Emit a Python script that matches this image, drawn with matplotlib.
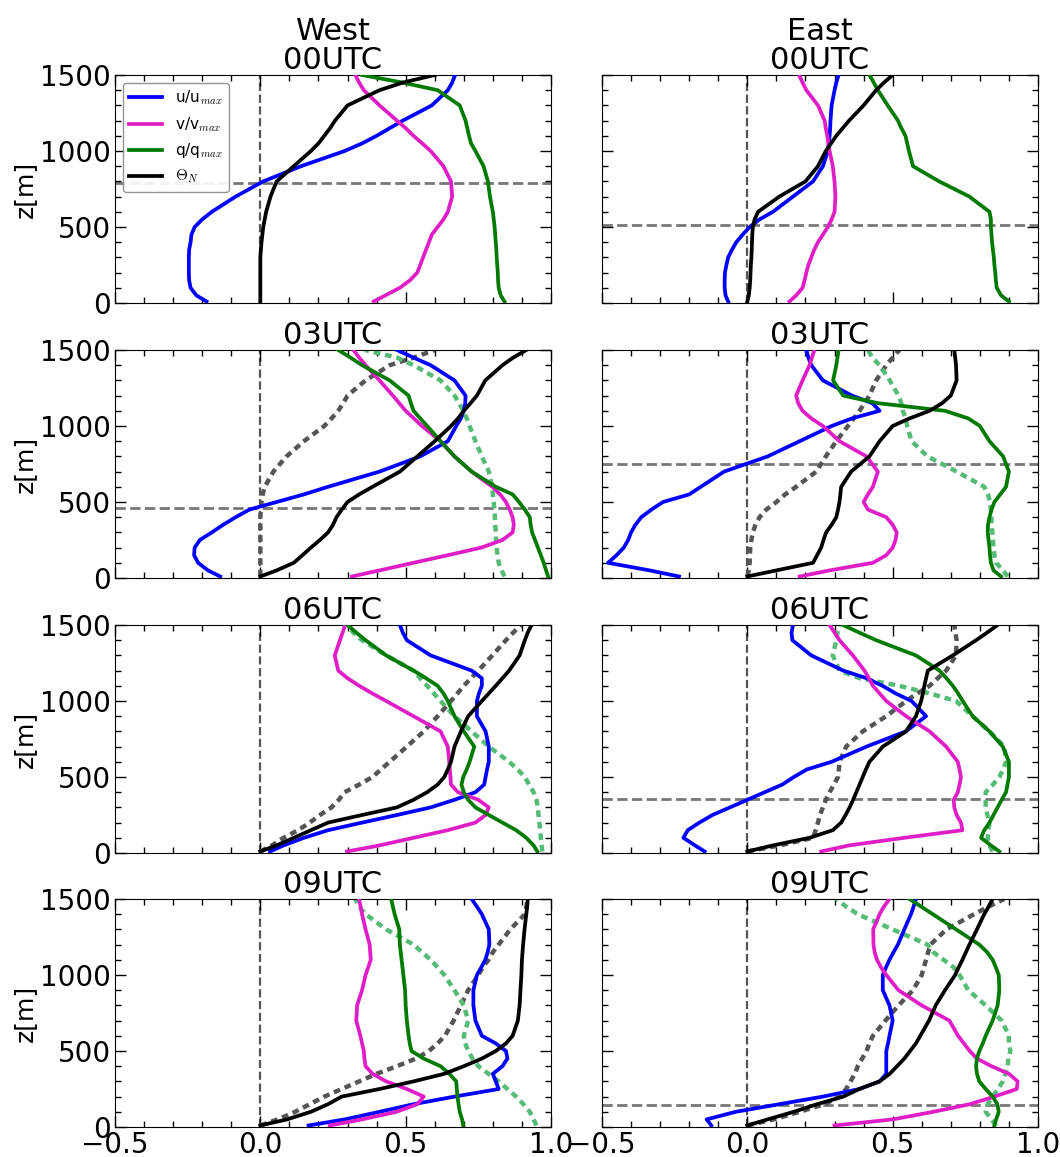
import matplotlib
matplotlib.use('Agg')
import matplotlib.pyplot as plt
from matplotlib.ticker import MultipleLocator

# height levels [m], shared by every profile
Z = [10, 50, 100, 150, 200, 250, 300, 350, 400, 450, 500, 550, 600,
     700, 800, 900, 1000, 1050, 1100, 1150, 1200, 1300, 1400, 1450, 1500]

# ---- West 00UTC
W00_U = [-0.185, -0.22, -0.24, -0.245, -0.246, -0.246, -0.246, -0.245, -0.24, -0.237, -0.226, -0.2, -0.167,
         -0.085, 0.01, 0.14, 0.29, 0.35, 0.40, 0.445, 0.49, 0.59, 0.645, 0.66, 0.67]
W00_V = [0.39, 0.43, 0.48, 0.515, 0.54, 0.55, 0.56, 0.57, 0.58, 0.59, 0.61, 0.63, 0.645,
         0.66, 0.656, 0.63, 0.586, 0.557, 0.527, 0.50, 0.47, 0.41, 0.356, 0.34, 0.327]
W00_Q = [0.84, 0.827, 0.82, 0.818, 0.817, 0.815, 0.813, 0.812, 0.81, 0.808, 0.806, 0.803, 0.80,
         0.79, 0.783, 0.768, 0.74, 0.725, 0.718, 0.712, 0.706, 0.686, 0.61, 0.49, 0.35]
W00_T = [0.0, 0.0, 0.0, 0.0, 0.0, 0.0, 0.0, 0.002, 0.004, 0.007, 0.01, 0.015, 0.02,
         0.035, 0.056, 0.115, 0.174, 0.2, 0.22, 0.24, 0.257, 0.30, 0.41, 0.49, 0.60]
W00_ZI = 787

# ---- East 00UTC
E00_U = [-0.066, -0.075, -0.078, -0.078, -0.077, -0.072, -0.066, -0.053, -0.038, -0.016, 0.008, 0.042, 0.088,
         0.157, 0.226, 0.26, 0.277, 0.28, 0.283, 0.285, 0.286, 0.29, 0.30, 0.306, 0.314]
E00_V = [0.145, 0.168, 0.19, 0.197, 0.203, 0.21, 0.22, 0.23, 0.243, 0.26, 0.277, 0.29, 0.30,
         0.303, 0.30, 0.294, 0.283, 0.279, 0.275, 0.27, 0.266, 0.243, 0.203, 0.19, 0.178]
E00_Q = [0.90, 0.873, 0.858, 0.855, 0.853, 0.85, 0.848, 0.845, 0.842, 0.84, 0.838, 0.838, 0.833,
         0.764, 0.66, 0.57, 0.556, 0.55, 0.544, 0.53, 0.518, 0.483, 0.449, 0.435, 0.42]
E00_T = [0.0, 0.005, 0.008, 0.01, 0.011, 0.012, 0.014, 0.015, 0.016, 0.017, 0.019, 0.025, 0.037,
         0.11, 0.20, 0.243, 0.27, 0.288, 0.306, 0.328, 0.35, 0.40, 0.443, 0.47, 0.50]
E00_ZI = 515

# ---- West 03UTC
W03_U = [-0.138, -0.18, -0.214, -0.228, -0.226, -0.208, -0.167, -0.128, -0.085, -0.038, 0.056, 0.15, 0.233,
         0.41, 0.55, 0.645, 0.674, 0.69, 0.70, 0.705, 0.706, 0.668, 0.586, 0.527, 0.47]
W03_V = [0.315, 0.41, 0.527, 0.645, 0.76, 0.833, 0.868, 0.872, 0.868, 0.858, 0.845, 0.825, 0.798,
         0.727, 0.668, 0.62, 0.556, 0.528, 0.50, 0.478, 0.456, 0.41, 0.362, 0.34, 0.32]
W03_Q = [0.99, 0.983, 0.975, 0.965, 0.955, 0.945, 0.935, 0.93, 0.927, 0.91, 0.89, 0.868, 0.81,
         0.727, 0.668, 0.62, 0.574, 0.55, 0.527, 0.518, 0.51, 0.445, 0.35, 0.31, 0.268]
W03_T = [0.0, 0.056, 0.115, 0.145, 0.174, 0.205, 0.233, 0.25, 0.262, 0.28, 0.30, 0.34, 0.386,
         0.48, 0.54, 0.60, 0.656, 0.68, 0.70, 0.723, 0.745, 0.774, 0.833, 0.87, 0.915]
W03_TP = [0.0, 0.0, 0.0, 0.0, 0.0, 0.0, 0.0, 0.0, 0.0, 0.002, 0.004, 0.008, 0.015,
          0.045, 0.09, 0.15, 0.22, 0.245, 0.268, 0.285, 0.30, 0.362, 0.445, 0.527, 0.60]
W03_QP = [0.84, 0.83, 0.82, 0.816, 0.813, 0.811, 0.81, 0.808, 0.807, 0.805, 0.803, 0.80, 0.798,
          0.786, 0.762, 0.74, 0.72, 0.71, 0.698, 0.684, 0.668, 0.62, 0.527, 0.47, 0.36]
W03_ZI = 463

# ---- East 03UTC
E03_U = [-0.235, -0.336, -0.479, -0.45, -0.425, -0.41, -0.40, -0.385, -0.365, -0.33, -0.29, -0.2, -0.16,
         -0.08, 0.07, 0.18, 0.29, 0.36, 0.455, 0.43, 0.36, 0.26, 0.22, 0.21, 0.203]
E03_V = [0.18, 0.283, 0.432, 0.478, 0.50, 0.51, 0.514, 0.50, 0.478, 0.415, 0.40, 0.415, 0.432,
         0.449, 0.41, 0.317, 0.26, 0.22, 0.19, 0.175, 0.168, 0.19, 0.214, 0.222, 0.231]
E03_Q = [0.873, 0.847, 0.838, 0.835, 0.833, 0.83, 0.827, 0.828, 0.833, 0.84, 0.85, 0.87, 0.89,
         0.90, 0.88, 0.833, 0.80, 0.76, 0.68, 0.45, 0.33, 0.295, 0.306, 0.31, 0.314]
E03_T = [0.0, 0.10, 0.226, 0.24, 0.254, 0.262, 0.271, 0.29, 0.306, 0.312, 0.317, 0.32, 0.323,
         0.357, 0.42, 0.455, 0.50, 0.558, 0.627, 0.67, 0.70, 0.72, 0.718, 0.715, 0.712]
E03_TP = [0.0, 0.005, 0.008, 0.009, 0.01, 0.014, 0.019, 0.028, 0.042, 0.065, 0.10, 0.13, 0.168,
          0.237, 0.27, 0.306, 0.346, 0.366, 0.386, 0.403, 0.42, 0.443, 0.478, 0.50, 0.523]
E03_QP = [0.896, 0.879, 0.856, 0.85, 0.847, 0.845, 0.843, 0.84, 0.84, 0.838, 0.835, 0.828, 0.815,
          0.72, 0.62, 0.565, 0.55, 0.545, 0.535, 0.53, 0.52, 0.49, 0.455, 0.43, 0.415]
E03_ZI = 752

# ---- West 06UTC
W06_U = [0.033, 0.08, 0.15, 0.233, 0.35, 0.47, 0.586, 0.668, 0.74, 0.77, 0.775, 0.78, 0.786,
         0.786, 0.775, 0.745, 0.745, 0.752, 0.762, 0.762, 0.727, 0.586, 0.504, 0.49, 0.48]
W06_V = [0.298, 0.41, 0.527, 0.645, 0.74, 0.775, 0.786, 0.75, 0.68, 0.656, 0.654, 0.652, 0.65,
         0.645, 0.62, 0.527, 0.433, 0.385, 0.34, 0.30, 0.268, 0.256, 0.274, 0.283, 0.292]
W06_Q = [0.953, 0.94, 0.915, 0.88, 0.833, 0.786, 0.74, 0.715, 0.70, 0.692, 0.698, 0.71, 0.72,
         0.736, 0.70, 0.668, 0.645, 0.63, 0.61, 0.57, 0.527, 0.433, 0.362, 0.33, 0.30]
W06_T = [0.0, 0.056, 0.115, 0.174, 0.233, 0.35, 0.47, 0.527, 0.574, 0.61, 0.633, 0.645, 0.656,
         0.668, 0.69, 0.715, 0.762, 0.786, 0.81, 0.833, 0.856, 0.892, 0.91, 0.92, 0.933]
W06_TP = [0.0, 0.04, 0.08, 0.13, 0.17, 0.205, 0.245, 0.27, 0.29, 0.34, 0.386, 0.415, 0.445,
          0.504, 0.562, 0.61, 0.656, 0.678, 0.70, 0.725, 0.75, 0.798, 0.845, 0.87, 0.897]
W06_QP = [0.97, 0.968, 0.965, 0.963, 0.96, 0.957, 0.955, 0.95, 0.94, 0.925, 0.91, 0.885, 0.856,
          0.786, 0.727, 0.668, 0.62, 0.597, 0.574, 0.55, 0.527, 0.433, 0.35, 0.32, 0.30]

# ---- East 06UTC
E06_U = [-0.147, -0.18, -0.22, -0.205, -0.165, -0.12, -0.06, 0.0, 0.06, 0.12, 0.16, 0.205, 0.29,
         0.41, 0.545, 0.615, 0.565, 0.51, 0.465, 0.41, 0.33, 0.22, 0.155, 0.152, 0.157]
E06_V = [0.254, 0.35, 0.54, 0.74, 0.735, 0.72, 0.712, 0.71, 0.724, 0.73, 0.735, 0.73, 0.724,
         0.684, 0.627, 0.546, 0.478, 0.455, 0.432, 0.418, 0.403, 0.363, 0.317, 0.30, 0.283]
E06_Q = [0.867, 0.838, 0.804, 0.815, 0.833, 0.847, 0.861, 0.875, 0.89, 0.895, 0.90, 0.90, 0.90,
         0.879, 0.833, 0.775, 0.741, 0.725, 0.707, 0.685, 0.661, 0.58, 0.443, 0.385, 0.329]
E06_T = [0.0, 0.088, 0.214, 0.294, 0.323, 0.338, 0.352, 0.364, 0.375, 0.386, 0.397, 0.408, 0.42,
         0.466, 0.546, 0.58, 0.598, 0.604, 0.609, 0.615, 0.621, 0.707, 0.787, 0.825, 0.861]
E06_TP = [0.0, 0.111, 0.226, 0.235, 0.243, 0.25, 0.26, 0.27, 0.283, 0.298, 0.312, 0.315, 0.317,
          0.34, 0.397, 0.478, 0.546, 0.585, 0.627, 0.655, 0.684, 0.718, 0.72, 0.716, 0.712]
E06_QP = [0.844, 0.833, 0.827, 0.83, 0.833, 0.826, 0.82, 0.82, 0.82, 0.845, 0.867, 0.88, 0.89,
          0.884, 0.833, 0.775, 0.718, 0.627, 0.523, 0.386, 0.317, 0.294, 0.306, 0.31, 0.317]
E06_ZI = 354

# ---- West 09UTC
W09_U = [0.166, 0.29, 0.41, 0.527, 0.668, 0.82, 0.81, 0.80, 0.833, 0.85, 0.845, 0.81, 0.762,
         0.74, 0.733, 0.733, 0.745, 0.76, 0.774, 0.782, 0.788, 0.786, 0.762, 0.745, 0.727]
W09_V = [0.239, 0.35, 0.468, 0.54, 0.562, 0.504, 0.433, 0.386, 0.362, 0.358, 0.356, 0.35, 0.344,
         0.33, 0.333, 0.35, 0.362, 0.371, 0.38, 0.378, 0.376, 0.362, 0.35, 0.345, 0.339]
W09_Q = [0.698, 0.694, 0.686, 0.682, 0.678, 0.676, 0.674, 0.65, 0.62, 0.562, 0.52, 0.514, 0.51,
         0.504, 0.50, 0.498, 0.492, 0.489, 0.486, 0.483, 0.48, 0.478, 0.462, 0.456, 0.45]
W09_T = [0.0, 0.092, 0.174, 0.233, 0.28, 0.41, 0.527, 0.633, 0.70, 0.762, 0.81, 0.845, 0.868,
         0.886, 0.892, 0.895, 0.898, 0.899, 0.90, 0.902, 0.904, 0.909, 0.915, 0.918, 0.92]
W09_TP = [0.0, 0.06, 0.12, 0.17, 0.22, 0.28, 0.34, 0.40, 0.47, 0.535, 0.58, 0.61, 0.635,
          0.665, 0.69, 0.715, 0.75, 0.765, 0.785, 0.80, 0.82, 0.86, 0.91, 0.915, 0.92]
W09_QP = [0.95, 0.94, 0.927, 0.905, 0.88, 0.85, 0.82, 0.785, 0.75, 0.73, 0.715, 0.705, 0.70,
          0.715, 0.70, 0.668, 0.633, 0.61, 0.586, 0.556, 0.527, 0.433, 0.362, 0.34, 0.327]

# ---- East 09UTC
E09_U = [-0.124, -0.14, -0.04, 0.11, 0.26, 0.386, 0.455, 0.478, 0.478, 0.478, 0.478, 0.484, 0.489,
         0.50, 0.489, 0.466, 0.466, 0.477, 0.489, 0.503, 0.518, 0.54, 0.563, 0.572, 0.58]
E09_V = [0.30, 0.50, 0.64, 0.765, 0.85, 0.927, 0.93, 0.90, 0.84, 0.79, 0.765, 0.745, 0.725,
         0.695, 0.60, 0.52, 0.478, 0.46, 0.446, 0.438, 0.434, 0.433, 0.455, 0.47, 0.489]
E09_Q = [0.85, 0.856, 0.865, 0.86, 0.844, 0.82, 0.798, 0.79, 0.787, 0.79, 0.798, 0.81, 0.82,
         0.844, 0.861, 0.867, 0.865, 0.855, 0.844, 0.825, 0.798, 0.718, 0.638, 0.598, 0.558]
E09_T = [0.0, 0.07, 0.16, 0.24, 0.33, 0.385, 0.455, 0.49, 0.515, 0.54, 0.56, 0.58, 0.595,
         0.625, 0.648, 0.68, 0.715, 0.727, 0.74, 0.752, 0.764, 0.79, 0.815, 0.83, 0.844]
E09_TP = [0.0, 0.09, 0.18, 0.265, 0.317, 0.34, 0.355, 0.37, 0.38, 0.395, 0.41, 0.42, 0.432,
          0.475, 0.52, 0.57, 0.60, 0.607, 0.615, 0.622, 0.63, 0.685, 0.78, 0.83, 0.884]
E09_QP = [0.856, 0.84, 0.82, 0.827, 0.844, 0.862, 0.879, 0.888, 0.896, 0.898, 0.905, 0.90, 0.90,
          0.875, 0.82, 0.76, 0.73, 0.71, 0.675, 0.64, 0.62, 0.50, 0.38, 0.34, 0.306]
E09_ZI = 143

TIMES = ['00UTC', '03UTC', '06UTC', '09UTC']
SITES = ['West', 'East']

BLUE = '#0000ff'
MAGENTA = '#e01ec8'
GREEN = '#007a00'
LIGHT_GREEN = '#55bb77'
DARK_GREY = '#555555'
LINE_GREY = '#777777'
LW = 2.7
DOTS = (0, (1.5, 1.1))

plt.rcParams['mathtext.fontset'] = 'cm'
plt.rcParams['font.size'] = 19

panels = [
    [(W00_U, W00_V, W00_Q, W00_T, None, None, W00_ZI),
     (E00_U, E00_V, E00_Q, E00_T, None, None, E00_ZI)],
    [(W03_U, W03_V, W03_Q, W03_T, W03_TP, W03_QP, W03_ZI),
     (E03_U, E03_V, E03_Q, E03_T, E03_TP, E03_QP, E03_ZI)],
    [(W06_U, W06_V, W06_Q, W06_T, W06_TP, W06_QP, None),
     (E06_U, E06_V, E06_Q, E06_T, E06_TP, E06_QP, E06_ZI)],
    [(W09_U, W09_V, W09_Q, W09_T, W09_TP, W09_QP, None),
     (E09_U, E09_V, E09_Q, E09_T, E09_TP, E09_QP, E09_ZI)],
]


def plot_panel(ax, u, v, q, t, tp, qp, zi):
    ax.axvline(0, color=DARK_GREY, ls='--', lw=1.6, zorder=1)
    if zi is not None:
        ax.axhline(zi, color=LINE_GREY, ls='--', lw=2.0, zorder=1)
    if tp is not None:
        ax.plot(tp, Z, color=DARK_GREY, ls=DOTS, lw=3.2, zorder=2)
    if qp is not None:
        ax.plot(qp, Z, color=LIGHT_GREEN, ls=DOTS, lw=3.2, zorder=2)
    ax.plot(u, Z, color=BLUE, lw=LW, label=r'u/u$_{max}$', zorder=3)
    ax.plot(v, Z, color=MAGENTA, lw=LW, label=r'v/v$_{max}$', zorder=3)
    ax.plot(q, Z, color=GREEN, lw=LW, label=r'q/q$_{max}$', zorder=3)
    ax.plot(t, Z, color='black', lw=LW, label=r'$\Theta_N$', zorder=3)


def config_axes(ax, row, col):
    ax.set_xlim(-0.5, 1.0)
    ax.set_ylim(0, 1500)
    ax.xaxis.set_major_locator(MultipleLocator(0.5))
    ax.xaxis.set_minor_locator(MultipleLocator(0.1))
    ax.yaxis.set_major_locator(MultipleLocator(500))
    ax.yaxis.set_minor_locator(MultipleLocator(100))
    ax.tick_params(which='both', direction='in', top=True, right=True,
                   labelsize=20, width=1.0)
    ax.tick_params(which='major', length=8, pad=3)
    ax.tick_params(which='minor', length=4)
    if col == 1:
        ax.tick_params(labelleft=False)
    else:
        ax.set_ylabel('z[m]', fontsize=18, labelpad=2)
    if row < 3:
        ax.tick_params(labelbottom=False)
    title = TIMES[row] if row > 0 else f'{SITES[col]}\n{TIMES[row]}'
    ax.set_title(title, fontsize=22, pad=2, linespacing=1.0)


fig = plt.figure(figsize=(10.6, 11.57), dpi=100)
lefts = [115 / 1060, 602 / 1060]
bottoms = [1 - 303 / 1157, 1 - 578 / 1157, 1 - 853 / 1157, 1 - 1127 / 1157]
w = 436 / 1060
h = 228 / 1157

for row in range(4):
    for col in range(2):
        ax = fig.add_axes([lefts[col], bottoms[row], w, h])
        plot_panel(ax, *panels[row][col])
        config_axes(ax, row, col)
        if row == 0 and col == 0:
            ax.legend(loc='upper left', fontsize=11, handlelength=2.2,
                      framealpha=0.9, edgecolor='#888888')

fig.savefig('out.png', dpi=100)
